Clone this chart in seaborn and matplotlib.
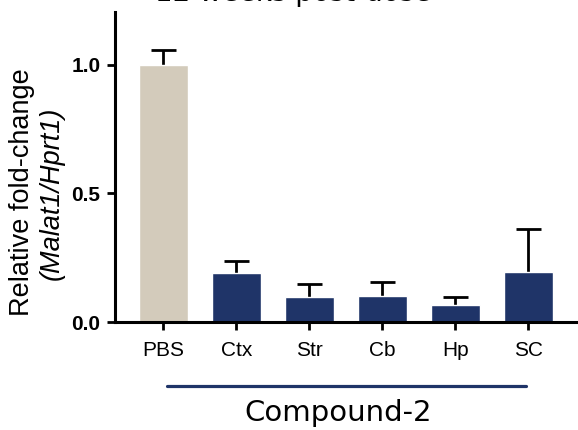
import matplotlib
matplotlib.use("Agg")
import matplotlib.pyplot as plt
import seaborn as sns
import pandas as pd

# Malat1 knockdown per tissue, relative to PBS
groups = ["PBS", "Ctx", "Str", "Cb", "Hp", "SC"]
fold_change = [1.0, 0.192, 0.098, 0.102, 0.066, 0.193]
sem = [0.058, 0.045, 0.051, 0.054, 0.030, 0.168]
treatment = ["PBS", "Compound-2", "Compound-2", "Compound-2", "Compound-2", "Compound-2"]
title_text = "12 weeks post-dose"
y_ticks = [0.0, 0.5, 1.0]

navy = "#1F3468"
palette = {"PBS": "#D3CBBB", "Compound-2": navy}

df = pd.DataFrame({"group": groups, "value": fold_change, "sem": sem, "treatment": treatment})

sns.set_style("white")
plt.rcParams["font.family"] = ["Liberation Sans", "DejaVu Sans"]
plt.rcParams["text.color"] = "black"
plt.rcParams["xtick.color"] = "black"
plt.rcParams["ytick.color"] = "black"

W, H = 578, 430
fig = plt.figure(figsize=(W / 100, H / 100), dpi=100)
ax = fig.add_axes([115 / W, 108 / H, 1 - 115 / W, 310 / H])

# error bars sit behind the bars so only the upper half shows
ax.errorbar(range(len(groups)), fold_change, yerr=sem,
            fmt="none", ecolor="black", elinewidth=2, capsize=9, capthick=2,
            zorder=0.5)

sns.barplot(data=df, x="group", y="value", hue="treatment", palette=palette,
            order=groups, dodge=False, width=0.67, errorbar=None, legend=False,
            saturation=1, ax=ax, zorder=1)

ax.set_xlim(-0.66, 5.68)
ax.set_ylim(0, 1.206)
ax.set_yticks(y_ticks)
ax.set_yticklabels([f"{t:.1f}" for t in y_ticks], fontsize=15, fontweight="bold",
                   color="black")
ax.set_xticks(range(len(groups)))
ax.set_xticklabels(groups, fontsize=15, color="black")
ax.set_xlabel("")
ax.set_ylabel("")

for side in ("top", "right"):
    ax.spines[side].set_visible(False)
for side in ("left", "bottom"):
    ax.spines[side].set_linewidth(2.2)
    ax.spines[side].set_color("black")
ax.tick_params(axis="y", direction="out", length=5.5, width=2, color="black",
               left=True, pad=5)
ax.tick_params(axis="x", direction="out", length=6, width=2, color="black",
               bottom=True, pad=8)

# axis label on two lines, gene names in italics
fig.text(22 / W, 1 - 192 / H, "Relative fold-change", rotation=90,
         ha="center", va="center", fontsize=19.5, color="black")
fig.text(52 / W, 1 - 193 / H, "(Malat1/Hprt1)", rotation=90,
         ha="center", va="center", fontsize=19.5, style="italic", color="black")

# bracket under the treated tissues
fig.add_artist(plt.Line2D([167 / W, 526 / W], [1 - 386 / H, 1 - 386 / H],
                          color=navy, linewidth=2.3))
fig.text(338 / W, 1 - 413 / H, "Compound-2", ha="center", va="center",
         fontsize=21, family="DejaVu Sans", color="black")

# title sits mostly above the canvas edge
fig.text(293 / W, 1 - 1 / H, title_text, ha="center", va="baseline",
         fontsize=20, family="DejaVu Sans", color="black")

fig.savefig("out.png", dpi=100)
